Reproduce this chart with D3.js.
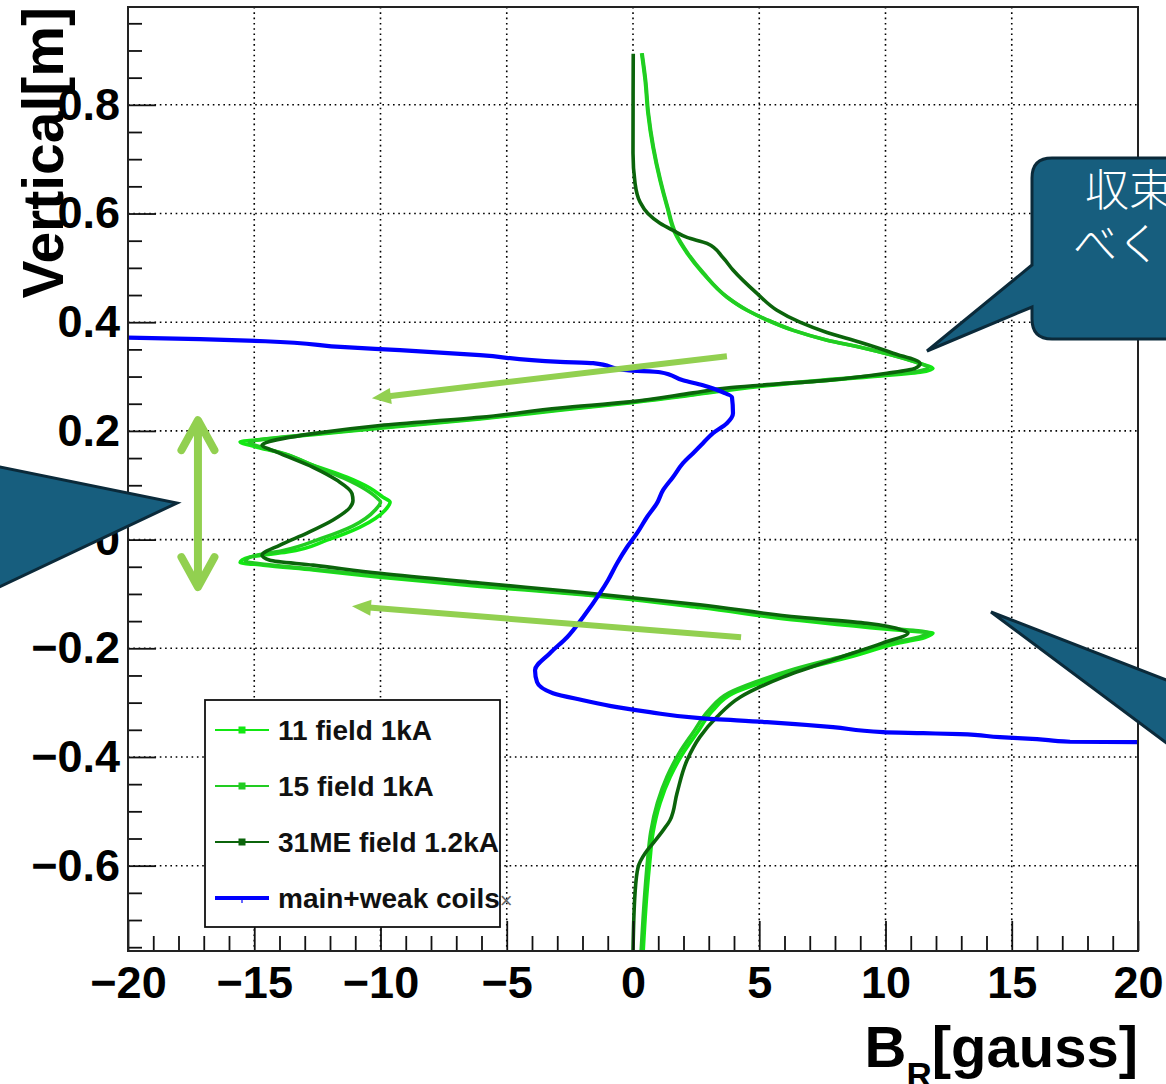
<!DOCTYPE html>
<html>
<head>
<meta charset="utf-8">
<script src="https://cdn.jsdelivr.net/npm/d3@7"></script>
<style>
  html, body { margin: 0; padding: 0; background: #fff; overflow: hidden; }
  svg { display: block; }
</style>
</head>
<body>
<svg id="chart" width="1166" height="1084"></svg>
<script>
// Radial field B_R [gauss] measured along the vertical coordinate [m]

// 11 field, 1 kA
const z11 = [0.895, 0.845, 0.785, 0.722, 0.661, 0.612, 0.564, 0.527, 0.490, 0.446,
  0.422, 0.404, 0.385, 0.367, 0.354, 0.339, 0.324, 0.315, 0.308, 0.298,
  0.282, 0.266, 0.251, 0.238, 0.222, 0.205, 0.193, 0.184, 0.180, 0.171,
  0.160, 0.137, 0.115, 0.095, 0.078, 0.069, 0.054, 0.023, -0.001, -0.023,
  -0.032, -0.042, -0.047, -0.056, -0.069, -0.086, -0.101, -0.125, -0.149, -0.162,
  -0.169, -0.172, -0.180, -0.190, -0.216, -0.240, -0.264, -0.283, -0.314, -0.356,
  -0.393, -0.437, -0.485, -0.540, -0.590, -0.651, -0.760];
const br11 = [0.34, 0.48, 0.59, 0.79, 1.07, 1.35, 1.66, 2.14, 2.77, 3.72,
  4.51, 5.31, 6.34, 7.68, 8.99, 10.30, 11.37, 11.88, 11.37, 8.99,
  5.03, 2.38, -0.24, -2.89, -6.06, -10.02, -12.67, -14.77, -15.56, -14.97,
  -13.98, -12.67, -11.33, -10.42, -9.90, -9.62, -9.82, -10.81, -12.12, -13.70,
  -15.17, -15.56, -14.65, -12.67, -10.02, -6.06, -2.10, 2.65, 6.61, 9.39,
  11.17, 11.88, 11.56, 10.57, 8.59, 6.61, 5.03, 3.96, 3.17, 2.53,
  1.98, 1.47, 1.07, 0.79, 0.67, 0.55, 0.40];

// 15 field, 1 kA
const z15 = [0.895, 0.845, 0.785, 0.722, 0.661, 0.612, 0.564, 0.527, 0.490, 0.446,
  0.422, 0.404, 0.385, 0.367, 0.354, 0.339, 0.325, 0.317, 0.309, 0.299,
  0.283, 0.267, 0.252, 0.239, 0.223, 0.206, 0.194, 0.185, 0.179, 0.170,
  0.158, 0.135, 0.113, 0.093, 0.077, 0.069, 0.055, 0.025, 0.002, -0.020,
  -0.030, -0.040, -0.046, -0.055, -0.068, -0.085, -0.100, -0.123, -0.147, -0.160,
  -0.167, -0.171, -0.179, -0.189, -0.214, -0.238, -0.262, -0.282, -0.313, -0.355,
  -0.392, -0.436, -0.484, -0.539, -0.589, -0.650, -0.760];
const br15 = [0.36, 0.50, 0.61, 0.81, 1.09, 1.37, 1.69, 2.17, 2.80, 3.74,
  4.53, 5.33, 6.36, 7.70, 9.01, 10.28, 11.30, 11.70, 11.20, 8.90,
  5.00, 2.35, -0.27, -2.92, -6.10, -10.05, -12.70, -14.60, -15.20, -14.70,
  -13.80, -12.60, -11.45, -10.62, -10.15, -10.00, -10.20, -11.10, -12.35, -13.85,
  -15.00, -15.35, -14.50, -12.55, -9.95, -6.00, -2.05, 2.70, 6.65, 9.45,
  11.10, 11.70, 11.35, 10.30, 8.35, 6.40, 4.85, 3.80, 3.02, 2.38,
  1.84, 1.35, 0.97, 0.70, 0.58, 0.47, 0.32];

// 31ME field, 1.2 kA
const z31 = [0.894, 0.711, 0.656, 0.621, 0.600, 0.582, 0.569, 0.556, 0.545, 0.519,
  0.496, 0.453, 0.422, 0.400, 0.381, 0.363, 0.343, 0.324, 0.315, 0.306,
  0.293, 0.284, 0.279, 0.270, 0.253, 0.242, 0.225, 0.210, 0.195, 0.179,
  0.174, 0.161, 0.133, 0.109, 0.085, 0.072, 0.059, 0.036, 0.012, -0.010,
  -0.029, -0.038, -0.047, -0.062, -0.080, -0.097, -0.120, -0.143, -0.154, -0.167,
  -0.172, -0.190, -0.221, -0.253, -0.290, -0.326, -0.363, -0.406, -0.467, -0.516,
  -0.535, -0.559, -0.577, -0.603, -0.651, -0.760];
const br31 = [0.01, 0.00, 0.08, 0.28, 0.59, 1.07, 1.58, 2.14, 2.93, 3.56,
  3.96, 4.91, 5.70, 6.61, 7.68, 8.99, 10.30, 11.37, 11.17, 10.06,
  7.68, 5.03, 3.72, 2.38, -0.24, -2.89, -6.06, -10.02, -12.67, -14.50,
  -14.69, -14.10, -12.67, -11.72, -11.13, -11.09, -11.21, -11.88, -12.91, -13.98,
  -14.69, -14.38, -12.67, -10.02, -6.06, -2.10, 2.65, 6.61, 9.27, 10.69,
  10.89, 9.90, 7.92, 5.94, 4.24, 3.33, 2.65, 2.14, 1.74, 1.47,
  1.19, 0.79, 0.48, 0.20, 0.08, 0.00];

// main + weak coils
const zCoil = [0.3715, 0.3687, 0.3650, 0.354, 0.3485, 0.3393, 0.327, 0.3246, 0.3117, 0.308,
  0.2933, 0.284, 0.2711, 0.2619, 0.2325, 0.2142, 0.196, 0.1774, 0.159, 0.1406,
  0.1148, 0.0909, 0.0670, 0.0412, 0.0118, -0.0140, -0.0434, -0.0747, -0.0986, -0.1428,
  -0.1796, -0.2090, -0.2403, -0.2624, -0.2826, -0.2955, -0.3083, -0.3175, -0.3286, -0.3359,
  -0.3451, -0.3543, -0.3562, -0.3580, -0.3635, -0.3672, -0.3720, -0.3727];
const brCoil = [-20.0, -17.15, -14.57, -11.41, -9.23, -6.06, -2.89, -1.58, -0.24, 1.07,
  1.98, 2.77, 3.56, 3.92, 3.96, 3.72, 3.17, 2.77, 2.38, 1.98,
  1.58, 1.19, 0.95, 0.55, 0.16, -0.24, -0.63, -0.99, -1.31, -1.98,
  -2.61, -3.29, -3.88, -3.80, -3.17, -1.98, -0.63, 0.67, 2.65, 5.31,
  7.92, 9.90, 11.49, 12.95, 14.53, 16.0, 17.31, 20.0];

const seriesNames = ["11 field 1kA", "15 field 1kA", "31ME field 1.2kA", "main+weak coils"];

// axis ticks
const xMajorTicks = [-20, -15, -10, -5, 0, 5, 10, 15, 20];
const yMajorTicks = [-0.6, -0.4, -0.2, 0, 0.2, 0.4, 0.6, 0.8];
const xDomain = [-20, 20];
const yDomain = [-0.757, 0.98];

// annotation arrows, in data units
const arrowUpper = { from: [3.72, 0.3375], to: [-10.34, 0.2602] };
const arrowLower = { from: [4.28, -0.1796], to: [-11.13, -0.1226] };
const gapArrow = { x: -17.23, top: 0.2198, bottom: -0.0874 };

// ---------------------------------------------------------------
const svg = d3.select("#chart");
const frame = { left: 128, right: 1138, top: 7, bottom: 951 };
const x = d3.scaleLinear().domain(xDomain).range([frame.left, frame.right]);
const y = d3.scaleLinear().domain(yDomain).range([frame.bottom, frame.top]);

const FONT = "'Liberation Sans', Arial, Helvetica, sans-serif";
const styles = [
  { color: "#12e812", width: 3.6 },
  { color: "#22cc22", width: 3.6 },
  { color: "#0b640b", width: 3.6 },
  { color: "#0000ff", width: 4.2 }
];

svg.append("rect").attr("width", 1166).attr("height", 1084).attr("fill", "#fff");

svg.append("defs").append("clipPath").attr("id", "plotClip")
  .append("rect").attr("x", frame.left).attr("y", frame.top)
  .attr("width", frame.right - frame.left).attr("height", frame.bottom - frame.top);

// dotted grid
const grid = svg.append("g").attr("stroke", "#000").attr("stroke-width", 1.6)
  .attr("stroke-dasharray", "1.6 3.7");
grid.selectAll("line.gx").data(xMajorTicks.filter(v => v > xDomain[0] && v < xDomain[1]))
  .join("line").attr("class", "gx")
  .attr("x1", d => x(d)).attr("x2", d => x(d))
  .attr("y1", frame.top).attr("y2", frame.bottom);
grid.selectAll("line.gy").data(yMajorTicks)
  .join("line").attr("class", "gy")
  .attr("y1", d => y(d)).attr("y2", d => y(d))
  .attr("x1", frame.left).attr("x2", frame.right);

// curves: each profile is single-valued in the vertical coordinate
const series = [
  { z: z11, b: br11 },
  { z: z15, b: br15 },
  { z: z31, b: br31 },
  { z: zCoil, b: brCoil }
];
const line = d3.line().x(d => x(d[0])).y(d => y(d[1])).curve(d3.curveMonotoneY);
const curves = svg.append("g").attr("clip-path", "url(#plotClip)");
series.forEach((s, i) => {
  const pts = s.b.map((v, k) => [v, s.z[k]]).sort((a, b) => a[1] - b[1]);
  curves.append("path").datum(pts)
    .attr("d", line)
    .attr("fill", "none")
    .attr("stroke", styles[i].color)
    .attr("stroke-width", styles[i].width)
    .attr("stroke-linejoin", "round");
});

// axes: ticks drawn inward from the frame
const xMinor = d3.range(-20, 20.001, 1).filter(v => !xMajorTicks.includes(v));
const yMinor = d3.range(-0.75, 0.951, 0.05).map(v => +v.toFixed(2))
  .filter(v => !yMajorTicks.some(t => Math.abs(t - v) < 1e-6));

const fmtX = d => (d < 0 ? "\u2212" : "") + Math.abs(d);
const fmtY = d => d === 0 ? "0" : (d < 0 ? "\u2212" : "") + Math.abs(d).toFixed(1);

svg.append("g").attr("transform", `translate(0,${frame.bottom})`)
  .call(d3.axisBottom(x).tickValues(xMajorTicks).tickSize(-30).tickPadding(15).tickFormat(fmtX));
svg.append("g").attr("transform", `translate(0,${frame.bottom})`)
  .call(d3.axisBottom(x).tickValues(xMinor).tickSize(-15).tickFormat(""));
svg.append("g").attr("transform", `translate(${frame.left},0)`)
  .call(d3.axisLeft(y).tickValues(yMajorTicks).tickSize(-28).tickPadding(8).tickFormat(fmtY));
svg.append("g").attr("transform", `translate(${frame.left},0)`)
  .call(d3.axisLeft(y).tickValues(yMinor).tickSize(-14).tickFormat(""));

svg.selectAll(".domain").remove();
svg.selectAll(".tick line").attr("stroke", "#111").attr("stroke-width", 1.8);
svg.selectAll(".tick text")
  .attr("font-family", FONT).attr("font-weight", "bold").attr("font-size", 45).attr("fill", "#000");

// frame
svg.append("rect")
  .attr("x", frame.left).attr("y", frame.top)
  .attr("width", frame.right - frame.left).attr("height", frame.bottom - frame.top)
  .attr("fill", "none").attr("stroke", "#222").attr("stroke-width", 2);

// axis titles
const xt = svg.append("text")
  .attr("x", frame.right).attr("y", 1067)
  .attr("text-anchor", "end")
  .attr("font-family", FONT).attr("font-weight", "bold").attr("font-size", 58).attr("fill", "#000");
xt.append("tspan").text("B");
xt.append("tspan").attr("font-size", 35).attr("dy", 20).text("R");
xt.append("tspan").attr("dy", -20).text("[gauss]");

svg.append("text")
  .attr("transform", `translate(63,${frame.top}) rotate(-90)`)
  .attr("text-anchor", "end")
  .attr("font-family", FONT).attr("font-weight", "bold").attr("font-size", 57).attr("fill", "#000")
  .text("Vertical[m]");

// legend
const legend = svg.append("g");
legend.append("rect").attr("x", 205).attr("y", 700).attr("width", 295).attr("height", 227)
  .attr("fill", "#fff").attr("stroke", "#111").attr("stroke-width", 1.8);
const legRowY = [730, 786, 842, 898];
seriesNames.forEach((name, i) => {
  const g = legend.append("g").attr("transform", `translate(0,${legRowY[i]})`);
  g.append("line").attr("x1", 215).attr("x2", 269).attr("y1", 0).attr("y2", 0)
    .attr("stroke", styles[i].color).attr("stroke-width", i === 3 ? 4 : 2.2);
  if (i < 3) {
    g.append("rect").attr("x", 238.5).attr("y", -3.5).attr("width", 7).attr("height", 7)
      .attr("fill", styles[i].color);
  } else {
    g.append("line").attr("x1", 242).attr("x2", 242).attr("y1", 0).attr("y2", 5)
      .attr("stroke", styles[i].color).attr("stroke-width", 1.2);
  }
  const t = g.append("text").attr("x", 278).attr("y", 0).attr("dy", "0.35em")
    .attr("font-family", FONT).attr("font-weight", "bold").attr("font-size", 28)
    .attr("textLength", null).attr("fill", "#111")
    .text(name);
  if (i === 3) {
    t.append("tspan").attr("font-weight", "normal").attr("fill", "#666").attr("font-size", 22).text("\u00d7");
  }
});

// annotation arrows
const ARROW = "#92d050";
const ann = svg.append("g");
function slantedArrow(a) {
  const x0 = x(a.from[0]), y0 = y(a.from[1]);
  const x1 = x(a.to[0]), y1 = y(a.to[1]);
  const ang = Math.atan2(y1 - y0, x1 - x0);
  const len = 19, half = 8;
  const bx = x1 - len * Math.cos(ang), by = y1 - len * Math.sin(ang);
  ann.append("line").attr("x1", x0).attr("y1", y0)
    .attr("x2", bx + 2 * Math.cos(ang)).attr("y2", by + 2 * Math.sin(ang))
    .attr("stroke", ARROW).attr("stroke-width", 6);
  const px = -Math.sin(ang) * half, py = Math.cos(ang) * half;
  ann.append("path")
    .attr("d", `M${x1},${y1}L${bx + px},${by + py}L${bx - px},${by - py}Z`)
    .attr("fill", ARROW);
}
slantedArrow(arrowUpper);
slantedArrow(arrowLower);

{
  const ax = x(gapArrow.x), yt = y(gapArrow.top), yb = y(gapArrow.bottom);
  const dx = 16.5, dy = 30;
  ann.append("path")
    .attr("d", `M${ax},${yt + 2}L${ax},${yb - 2}` +
      `M${ax - dx},${yt + dy}L${ax},${yt}L${ax + dx},${yt + dy}` +
      `M${ax - dx},${yb - dy}L${ax},${yb}L${ax + dx},${yb - dy}`)
    .attr("fill", "none").attr("stroke", ARROW).attr("stroke-width", 8)
    .attr("stroke-linecap", "round").attr("stroke-linejoin", "round");
}

// speech-bubble callouts
const CALL_FILL = "#175e7e", CALL_EDGE = "#0b2a3a";
const callouts = svg.append("g").attr("fill", CALL_FILL).attr("stroke", CALL_EDGE).attr("stroke-width", 3)
  .attr("stroke-linejoin", "miter");

// upper right bubble, pointing at the upper peak
callouts.append("path").attr("d",
  "M1052,158 L1320,158 L1320,339 L1052,339 Q1032,339 1032,319 L1032,307 L927,351 L1032,265 L1032,178 Q1032,158 1052,158 Z");
// left bubble pointer
callouts.append("path").attr("d", "M-20,463 L177,503 L-20,596 Z");
// lower right bubble pointer
callouts.append("path").attr("d", "M1200,693 L991,612 L1200,768 Z");

const CJK = "'Noto Sans CJK JP', 'Noto Sans CJK SC', sans-serif";
const bubbleText = svg.append("text")
  .attr("font-family", CJK).attr("font-weight", 300).attr("font-size", 44).attr("fill", "#fff");
bubbleText.append("tspan").attr("x", 1085).attr("y", 206).text("収束");
bubbleText.append("tspan").attr("x", 1073).attr("y", 260).text("べく");
</script>
</body>
</html>
